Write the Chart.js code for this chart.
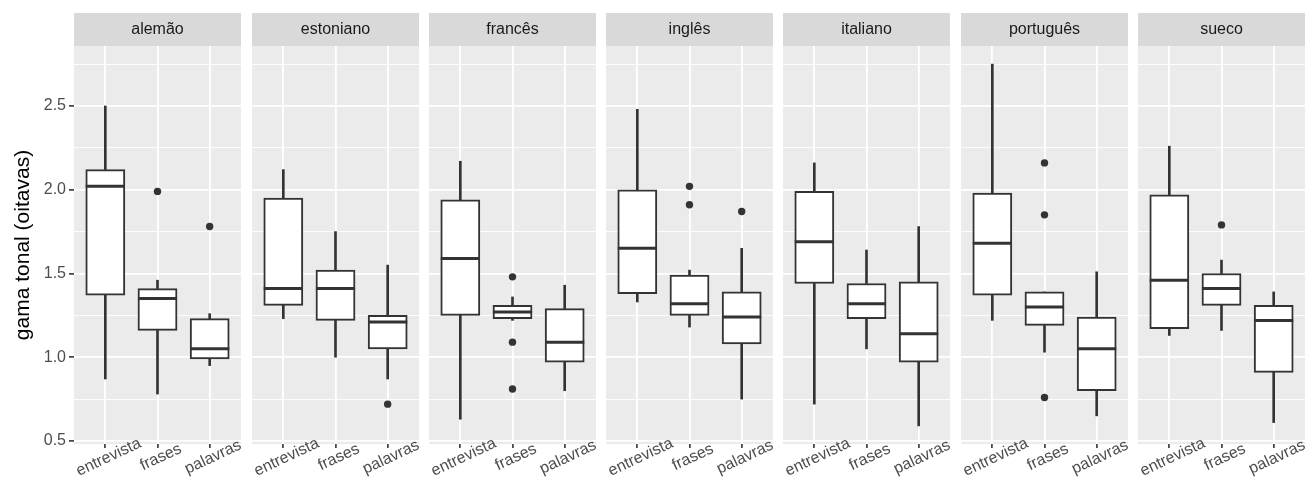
<!DOCTYPE html>
<html>
<head>
<meta charset="utf-8">
<script src="https://cdn.jsdelivr.net/npm/chart.js@4/dist/chart.umd.min.js"></script>
<style>
html,body{margin:0;padding:0;background:#fff;}
#wrap{position:relative;width:1314px;height:482px;overflow:hidden;background:#fff;}
#wrap canvas{position:absolute;top:0;}
</style>
</head>
<body>
<div id="wrap"></div>
<script>
// ---------------- data ----------------
const languages = ['alemão','estoniano','francês','inglês','italiano','português','sueco'];
const conditions = ['entrevista','frases','palavras'];
// per language: [entrevista, frases, palavras]
const whiskerLow  = [[0.87,0.78,0.95],[1.23,1.00,0.87],[0.63,1.22,0.80],[1.33,1.18,0.75],[0.72,1.05,0.59],[1.22,1.03,0.65],[1.13,1.16,0.61]];
const q1          = [[1.37,1.16,0.99],[1.31,1.22,1.05],[1.25,1.23,0.97],[1.38,1.25,1.08],[1.44,1.23,0.97],[1.37,1.19,0.80],[1.17,1.31,0.91]];
const median      = [[2.02,1.35,1.05],[1.41,1.41,1.21],[1.59,1.27,1.09],[1.65,1.32,1.24],[1.69,1.32,1.14],[1.68,1.30,1.05],[1.46,1.41,1.22]];
const q3          = [[2.12,1.41,1.23],[1.95,1.52,1.25],[1.94,1.31,1.29],[2.00,1.49,1.39],[1.99,1.44,1.45],[1.98,1.39,1.24],[1.97,1.50,1.31]];
const whiskerHigh = [[2.50,1.46,1.26],[2.12,1.75,1.55],[2.17,1.36,1.43],[2.48,1.52,1.65],[2.16,1.64,1.78],[2.75,1.39,1.51],[2.26,1.58,1.39]];
const outliers    = [[[],[1.99],[1.78]],[[],[],[0.72]],[[],[1.48,1.09,0.81],[]],[[],[2.02,1.91],[1.87]],[[],[],[]],[[],[2.16,1.85,0.76],[]],[[],[1.79],[]]];
const yMajorTicks = [0.5,1.0,1.5,2.0,2.5];
const yMinorTicks = [0.75,1.25,1.75,2.25,2.75];
const yTitle = 'gama tonal (oitavas)';

// ---------------- layout / style ----------------
const PANEL_LEFT = [74,252,429,606,783,961,1138];
const PANEL_W = 167, PANEL_TOP = 46, PANEL_BOTTOM = 444, STRIP_TOP = 13, H = 482, AXIS_W = 74, EXTRA_R = 10;
const FONT = "'Liberation Sans', Arial, Helvetica, sans-serif";
const INK = '#333333';
const LABEL_ANGLE = 25;
const TICK_FONT = 16, STRIP_FONT = 16, TITLE_FONT = 21;
const BOX_W = PANEL_W / 3.2 * 0.75;

Chart.defaults.font.family = FONT;

// y limits like ggplot (5% expansion of data range)
const allVals = [].concat(...whiskerLow, ...whiskerHigh, ...outliers.flat(2));
const dMin = Math.min(...allVals), dMax = Math.max(...allVals);
const yPad = (dMax - dMin) * 0.05;
const Y_MIN = dMin - yPad, Y_MAX = dMax + yPad;
const yTickValues = yMajorTicks.concat(yMinorTicks).sort((a,b)=>a-b);
const isMajor = v => yMajorTicks.includes(v);

const facetPlugin = {
  id: 'facet',
  beforeDraw(chart) {
    const {ctx, chartArea: a} = chart;
    ctx.save();
    ctx.fillStyle = '#EBEBEB';
    ctx.fillRect(a.left, a.top, a.right - a.left, a.bottom - a.top);
    ctx.restore();
  },
  afterDraw(chart, args, opts) {
    const {ctx, chartArea: a} = chart;
    ctx.save();
    ctx.fillStyle = '#D9D9D9';
    ctx.fillRect(a.left, STRIP_TOP, a.right - a.left, a.top - STRIP_TOP);
    ctx.fillStyle = '#1A1A1A';
    ctx.font = STRIP_FONT + 'px ' + FONT;
    ctx.textAlign = 'center';
    ctx.textBaseline = 'middle';
    ctx.fillText(opts.label, (a.left + a.right) / 2, (STRIP_TOP + a.top) / 2 + 0.5);
    const xs = chart.scales.x;
    ctx.fillStyle = '#4D4D4D';
    ctx.font = TICK_FONT + 'px ' + FONT;
    ctx.textBaseline = 'top';
    xs.ticks.forEach(t => {
      const px = xs.getPixelForValue(t.value);
      ctx.save();
      ctx.translate(px, a.bottom + 6);
      ctx.rotate(-LABEL_ANGLE * Math.PI / 180);
      ctx.fillText(conditions[t.value - 1], 0, 0);
      ctx.restore();
    });
    ctx.restore();
  }
};

const wrap = document.getElementById('wrap');

languages.forEach((lang, k) => {
  const first = k === 0;
  const leftPad = first ? AXIS_W : 0;
  const canvas = document.createElement('canvas');
  canvas.width = leftPad + PANEL_W + EXTRA_R;
  canvas.height = H;
  canvas.style.left = (PANEL_LEFT[k] - leftPad) + 'px';
  canvas.style.width = canvas.width + 'px';
  canvas.style.height = H + 'px';
  wrap.appendChild(canvas);

  const xs = conditions.map((c, j) => j + 1);
  const datasets = [
    { type: 'bar', label: 'whisker-low', data: xs.map((x, j) => ({x, y: [whiskerLow[k][j], q1[k][j]]})),
      backgroundColor: INK, borderWidth: 0, barThickness: 2, grouped: false, order: 4 },
    { type: 'bar', label: 'whisker-high', data: xs.map((x, j) => ({x, y: [q3[k][j], whiskerHigh[k][j]]})),
      backgroundColor: INK, borderWidth: 0, barThickness: 2, grouped: false, order: 3 },
    { type: 'bar', label: 'box', data: xs.map((x, j) => ({x, y: [q1[k][j], q3[k][j]]})),
      backgroundColor: '#FFFFFF', borderColor: INK, borderWidth: 2, borderSkipped: false,
      barThickness: BOX_W, grouped: false, order: 2 },
    { type: 'scatter', label: 'median', data: xs.map((x, j) => ({x, y: median[k][j]})),
      pointStyle: 'line', pointRadius: BOX_W / 2, pointBorderWidth: 3, pointBorderColor: INK,
      pointBackgroundColor: INK, order: 1 },
    { type: 'scatter', label: 'outliers', data: outliers[k].flatMap((arr, j) => arr.map(y => ({x: j + 1, y}))),
      pointRadius: 3.7, pointBackgroundColor: INK, pointBorderWidth: 0, order: 0 }
  ];

  new Chart(canvas, {
    type: 'bar',
    data: { datasets },
    plugins: [facetPlugin],
    options: {
      responsive: false,
      animation: false,
      devicePixelRatio: 1,
      events: [],
      layout: { autoPadding: false, padding: { top: PANEL_TOP, left: 0, right: EXTRA_R, bottom: 0 } },
      plugins: { legend: { display: false }, tooltip: { enabled: false }, facet: { label: lang } },
      scales: {
        x: {
          type: 'linear', min: 0.4, max: 3.6, offset: false,
          afterBuildTicks: s => { s.ticks = xs.map(v => ({value: v})); },
          afterFit: s => { s.height = H - PANEL_BOTTOM; },
          ticks: { display: false, autoSkip: false },
          grid: { offset: false, color: '#FFFFFF', lineWidth: 1.8, drawTicks: true, tickLength: 4,
                  tickColor: INK, tickWidth: 1.6 },
          border: { display: false }
        },
        y: {
          type: 'linear', min: Y_MIN, max: Y_MAX,
          afterBuildTicks: s => { s.ticks = yTickValues.map(v => ({value: v})); },
          afterFit: s => { s.width = leftPad; },
          ticks: { display: first, autoSkip: false, color: '#4D4D4D', font: { size: TICK_FONT }, padding: 3,
                   callback: v => isMajor(v) ? v.toFixed(1) : '' },
          grid: { color: '#FFFFFF', lineWidth: c => isMajor(c.tick.value) ? 1.8 : 0.9,
                  drawTicks: first, tickLength: 5,
                  tickColor: c => isMajor(c.tick.value) ? INK : 'rgba(0,0,0,0)', tickWidth: 1.6 },
          border: { display: false },
          title: { display: first, text: yTitle, color: '#000000', font: { size: TITLE_FONT }, padding: { top: 11, bottom: 0 } }
        }
      }
    }
  });
});
</script>
</body>
</html>
